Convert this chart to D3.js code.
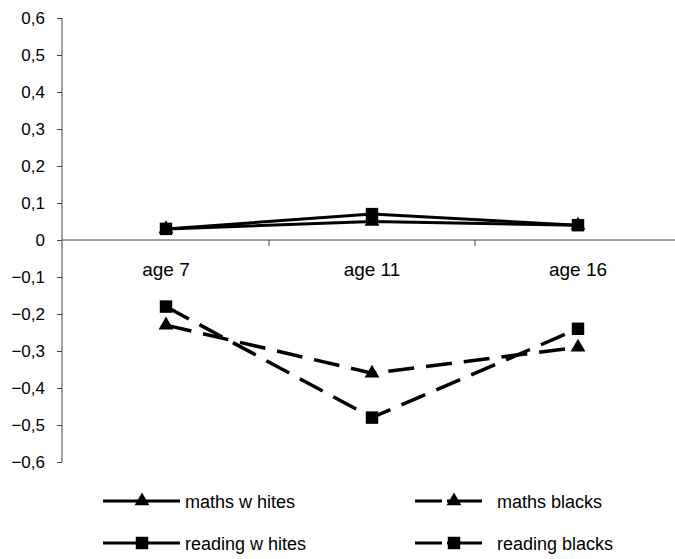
<!DOCTYPE html>
<html lang="en">
<head>
    <meta charset="UTF-8">
    <title>Scores by age</title>
    <script src="https://d3js.org/d3.v7.min.js"></script>
    <style>
        body { margin: 0; background: #fff; }
        svg { font-family: "Liberation Sans", Arial, sans-serif; }
        .axis path, .axis line { stroke: #444; }
        .axis text { fill: #000; }
        .series { fill: none; stroke: #000; stroke-width: 3; }
        .marker { fill: #000; }
    </style>
</head>
<body>
<script>
    const width = 675;
    const height = 559;

    const categories = ["age 7", "age 11", "age 16"];
    const mathsWhites = [0.03, 0.05, 0.04];
    const readingWhites = [0.03, 0.07, 0.04];
    const mathsBlacks = [-0.23, -0.36, -0.29];
    const readingBlacks = [-0.18, -0.48, -0.24];
    const yTicks = [-0.6, -0.5, -0.4, -0.3, -0.2, -0.1, 0, 0.1, 0.2, 0.3, 0.4, 0.5, 0.6];

    const seriesList = [
        {name: "maths w hites", values: mathsWhites, symbol: d3.symbolTriangle, dashed: false},
        {name: "reading w hites", values: readingWhites, symbol: d3.symbolSquare, dashed: false},
        {name: "maths blacks", values: mathsBlacks, symbol: d3.symbolTriangle, dashed: true},
        {name: "reading blacks", values: readingBlacks, symbol: d3.symbolSquare, dashed: true}
    ];

    const svg = d3.select("body").append("svg")
        .attr("width", width).attr("height", height);

    const x = d3.scaleBand().domain(categories).range([63, 681]);
    const y = d3.scaleLinear().domain([-0.6, 0.6]).range([462, 18]);

    // y axis
    svg.append("g")
        .attr("class", "axis")
        .attr("transform", "translate(62,0)")
        .call(d3.axisLeft(y).tickValues(yTicks).tickSize(5).tickPadding(12)
            .tickFormat(d => d3.format(".1f")(d).replace(".", ",").replace(/^0,0$/, "0").replace("-0,0", "0")))
        .call(g => g.select(".domain").attr("d", "M0,18V462"))
        .selectAll("text").style("font-size", "17px");

    // x axis at zero
    const xg = svg.append("g")
        .attr("class", "axis")
        .attr("transform", `translate(0,${y(0)})`);
    xg.append("line").attr("x1", 62).attr("x2", width).attr("y1", 0).attr("y2", 0);
    xg.selectAll("line.tick")
        .data(categories.slice(1))
        .enter().append("line")
        .attr("class", "tick")
        .attr("x1", d => x(d)).attr("x2", d => x(d))
        .attr("y1", 0).attr("y2", 6);
    xg.selectAll("text")
        .data(categories)
        .enter().append("text")
        .attr("x", d => x(d) + x.bandwidth() / 2)
        .attr("y", 36)
        .attr("text-anchor", "middle")
        .style("font-size", "19px")
        .text(d => d);

    const line = d3.line()
        .x((d, i) => x(categories[i]) + x.bandwidth() / 2)
        .y(d => y(d));

    const symbolSize = s => s === d3.symbolSquare ? 155 : 95;

    seriesList.forEach(s => {
        svg.append("path")
            .datum(s.values)
            .attr("class", "series")
            .attr("stroke-dasharray", s.dashed ? "26,12" : null)
            .style("stroke-width", s.dashed ? 3.5 : 3)
            .attr("d", line);
        svg.selectAll(null)
            .data(s.values)
            .enter().append("path")
            .attr("class", "marker")
            .attr("d", d3.symbol().type(s.symbol).size(symbolSize(s.symbol)))
            .attr("transform", (d, i) => `translate(${x(categories[i]) + x.bandwidth() / 2},${y(d)})`);
    });

    // legend
    const legendPos = [[103, 501], [103, 543], [415, 501], [415, 543]];
    seriesList.forEach((s, i) => {
        const [lx, ly] = legendPos[i];
        const g = svg.append("g").attr("transform", `translate(${lx},${ly})`);
        g.append("line")
            .attr("class", "series")
            .attr("x1", 0).attr("x2", s.dashed ? 67 : 77)
            .attr("stroke-dasharray", s.dashed ? "27,5,40" : null);
        g.append("path")
            .attr("class", "marker")
            .attr("d", d3.symbol().type(s.symbol).size(symbolSize(s.symbol)))
            .attr("transform", `translate(${s.dashed ? 39 : 39},0)`);
        g.append("text")
            .attr("x", 82)
            .attr("y", 6.5)
            .style("font-size", "18px")
            .text(s.name);
    });
</script>
</body>
</html>
